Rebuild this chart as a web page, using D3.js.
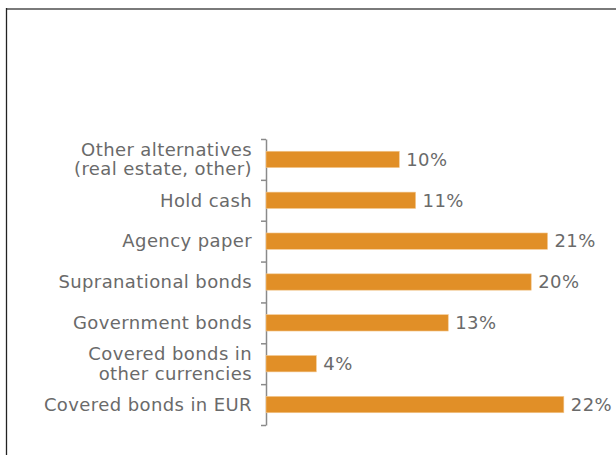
<!DOCTYPE html>
<html>
<head>
<meta charset="utf-8">
<script src="https://cdn.jsdelivr.net/npm/d3@7"></script>
<style>
  body { margin: 0; background: #fff; }
  text { font-family: "DejaVu Sans", Verdana, sans-serif; letter-spacing: 0.4px; }
</style>
</head>
<body>
<div id="chartContainer"></div>
<script>
// categories top to bottom, multi-line labels split into rows
var categories = [
	["Other alternatives", "(real estate, other)"],
	["Hold cash"],
	["Agency paper"],
	["Supranational bonds"],
	["Government bonds"],
	["Covered bonds in", "other currencies"],
	["Covered bonds in EUR"]
];
var shares = [9.8, 11.0, 20.7, 19.5, 13.4, 3.7, 21.9];
var shareLabels = ["10%", "11%", "21%", "20%", "13%", "4%", "22%"];

var width = 616, height = 455;
var barColor = "#E18F27";
var textColor = "#6a6a6a";

var svg = d3.select("#chartContainer")
	.append("svg")
	.attr("width", width)
	.attr("height", height);

// frame
svg.append("line")
	.attr("x1", 6).attr("x2", width).attr("y1", 9).attr("y2", 9)
	.attr("stroke", "#7a7a7a").attr("stroke-width", 2);
svg.append("line")
	.attr("x1", 6.5).attr("x2", 6.5).attr("y1", 8).attr("y2", height)
	.attr("stroke", "#222").attr("stroke-width", 1.3);

var plotLeft = 266, plotTop = 139, plotBottom = 425;
var keys = d3.range(categories.length);

var x = d3.scaleLinear()
	.domain([0, 25])
	.range([plotLeft, plotLeft + 340]);

var y = d3.scaleBand()
	.domain(keys)
	.range([plotTop, plotBottom])
	.paddingInner(0.6)
	.paddingOuter(0.3);

// axis with ticks between categories
var yEdges = d3.scaleLinear()
	.domain([0, categories.length])
	.range([plotTop, plotBottom]);

var axis = svg.append("g")
	.attr("transform", "translate(" + plotLeft + ",0)")
	.call(d3.axisLeft(yEdges).tickValues(d3.range(categories.length + 1)).tickSize(5).tickSizeOuter(0).tickFormat(""));
axis.selectAll("path, line")
	.attr("stroke", "#8a8a8a")
	.attr("stroke-width", 1.5);

// bars
svg.selectAll(".bar")
	.data(keys)
	.enter()
	.append("rect")
	.attr("class", "bar")
	.attr("x", x(0))
	.attr("y", function(d) { return y(d); })
	.attr("width", function(d) { return x(shares[d]) - x(0); })
	.attr("height", y.bandwidth())
	.attr("fill", barColor)
	.attr("stroke", "#F3C890")
	.attr("stroke-width", 0.6);

// value labels
svg.selectAll(".valueLabel")
	.data(keys)
	.enter()
	.append("text")
	.attr("class", "valueLabel")
	.attr("x", function(d) { return x(shares[d]) + 7; })
	.attr("y", function(d) { return y(d) + y.bandwidth() / 2; })
	.attr("dy", "0.35em")
	.attr("font-size", 18)
	.attr("fill", textColor)
	.text(function(d) { return shareLabels[d]; });

// category labels
var lineHeight = 19.5;
var catLabels = svg.selectAll(".catLabel")
	.data(keys)
	.enter()
	.append("text")
	.attr("class", "catLabel")
	.attr("text-anchor", "end")
	.attr("font-size", 18)
	.attr("fill", textColor);

catLabels.each(function(d) {
	var lines = categories[d];
	var cy = y(d) + y.bandwidth() / 2;
	var first = cy - (lines.length - 1) * lineHeight / 2;
	d3.select(this).selectAll("tspan")
		.data(lines)
		.enter()
		.append("tspan")
		.attr("x", 252)
		.attr("y", function(t, i) { return first + i * lineHeight; })
		.attr("dy", "0.35em")
		.text(function(t) { return t; });
});
</script>
</body>
</html>
